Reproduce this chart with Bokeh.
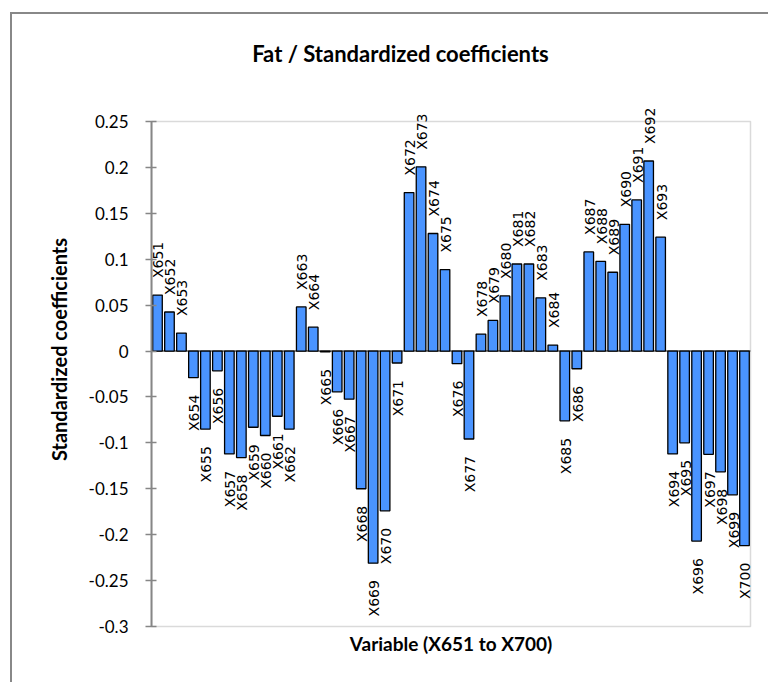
import math
from bokeh.plotting import figure
from bokeh.models import (ColumnDataSource, Range1d, FixedTicker, LabelSet, Label,
                          BoxAnnotation, LinearAxis)
from bokeh.core.properties import value
from bokeh.embed import file_html
from bokeh.resources import INLINE

variables = ["X%d" % n for n in range(651, 701)]
coefficients = [
    0.061, 0.0425, 0.0196, -0.029, -0.085, -0.0215, -0.112, -0.116, -0.083, -0.092,
    -0.071, -0.085, 0.048, 0.026, -0.001, -0.0444, -0.0524, -0.150, -0.231, -0.174,
    -0.013, 0.1726, 0.2006, 0.128, 0.0887, -0.0138, -0.0958, 0.0185, 0.0334, 0.060,
    0.0948, 0.0948, 0.058, 0.0065, -0.076, -0.0193, 0.108, 0.0977, 0.0858, 0.138,
    0.1646, 0.207, 0.124, -0.112, -0.100, -0.207, -0.1125, -0.1315, -0.1566, -0.212,
]
tick_values = [-0.3, -0.25, -0.2, -0.15, -0.1, -0.05, 0, 0.05, 0.1, 0.15, 0.2, 0.25]
tick_labels = ["-0.3", "-0.25", "-0.2", "-0.15", "-0.1", "-0.05", "0", "0.05", "0.1", "0.15", "0.2", "0.25"]

title_text = "Fat / Standardized coefficients"
y_title = "Standardized coefficients"
x_title = "Variable (X651 to X700)"

GRAY = "#868686"
BAR = "#4A94FF"

n = len(variables)
y_lo, y_hi = tick_values[0], tick_values[-1]
xs = [i + 0.5 for i in range(n)]

src = ColumnDataSource(dict(x=xs, var=variables, val=coefficients))
pos_src = ColumnDataSource(dict(
    x=[x for x, c in zip(xs, coefficients) if c >= 0],
    var=[v for v, c in zip(variables, coefficients) if c >= 0],
    val=[c for c in coefficients if c >= 0]))
neg_src = ColumnDataSource(dict(
    x=[x for x, c in zip(xs, coefficients) if c < 0],
    var=[v for v, c in zip(variables, coefficients) if c < 0],
    val=[c for c in coefficients if c < 0]))

p = figure(
    x_range=Range1d(0, 51.67),
    y_range=Range1d(-0.36317, 0.36653),
    width=758, height=670, title=None,
    output_backend="svg", toolbar_location=None,
    min_border_left=139, min_border_right=0, min_border_top=0, min_border_bottom=0,
)
p.margin = (12, 0, 0, 10)
p.styles = {"border-left": "2px solid #888888", "border-top": "2px solid #888888"}

p.xgrid.visible = False
p.ygrid.visible = False
p.xaxis.visible = False
p.outline_line_color = None
p.background_fill_color = "white"
p.border_fill_color = "white"

ya = p.yaxis[0]
ya.bounds = (y_lo, y_hi)
ya.ticker = FixedTicker(ticks=tick_values)
ya.major_label_overrides = {t: l for t, l in zip(tick_values, tick_labels)}
ya.axis_line_color = GRAY
ya.axis_line_width = 2
ya.major_tick_line_color = GRAY
ya.major_tick_line_width = 1.5
ya.major_tick_in = 5
ya.major_tick_out = 6
ya.minor_tick_line_color = None
ya.major_label_text_font = "Lato"
ya.major_label_text_font_size = "17px"
ya.major_label_text_color = "black"
ya.major_label_standoff = 17

# outer axis that only carries the axis title
ta = LinearAxis(bounds=(-0.204, 0.196), ticker=FixedTicker(ticks=[]),
                axis_line_color=None, major_tick_line_color=None,
                minor_tick_line_color=None, axis_label=y_title,
                axis_label_text_font="Lato", axis_label_text_font_style="bold",
                axis_label_text_font_size="20px", axis_label_text_color="black",
                axis_label_standoff=15)
p.add_layout(ta, "left")

# zero (category) axis line
p.segment(x0=[0], x1=[n], y0=[0], y1=[0], line_color=GRAY, line_width=2)

p.vbar(x="x", top="val", width=0.8, source=src, fill_color=BAR,
       line_color="black", line_width=1.3)

# plot-area border
p.add_layout(BoxAnnotation(left=0, right=n, bottom=y_lo, top=y_hi, fill_color=None,
                           line_color=GRAY, line_width=1.5))

common = dict(x="x", y="val", text="var", angle=math.pi / 2, text_baseline="middle",
              text_font=value("DejaVu Sans"), text_font_size=value("14px"),
              text_color="black", x_offset=1)
p.add_layout(LabelSet(source=pos_src, text_align="left", y_offset=17, **common))
p.add_layout(LabelSet(source=neg_src, text_align="right", y_offset=-17, **common))

p.add_layout(Label(x=20.78, y=0.3241, text=title_text, text_font="Lato",
                   text_font_style="bold", text_font_size="22px", text_align="center",
                   text_baseline="middle", text_color="black"))
p.add_layout(Label(x=n / 2, y=-0.3185, text=x_title, text_font="Lato",
                   text_font_style="bold", text_font_size="19px", text_align="center",
                   text_baseline="middle", text_color="black"))

open("out.html", "w").write(file_html(p, INLINE))
